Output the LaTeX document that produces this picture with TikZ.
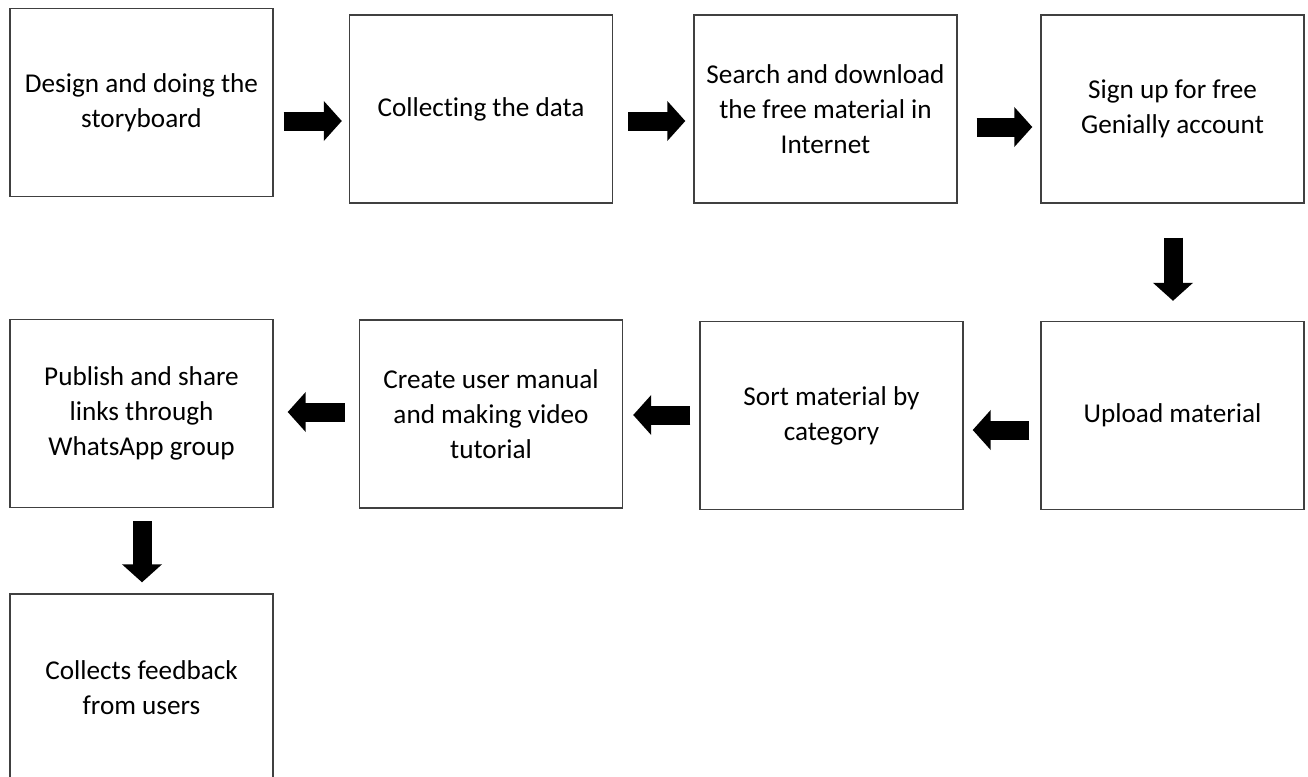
\documentclass[tikz,border=0pt]{standalone}
\usepackage{fontspec}
\setmainfont{Carlito}[Ligatures=NoCommon]
\usetikzlibrary{arrows.meta,calc}

\begin{document}
\begin{tikzpicture}[x=0.5pt,y=-0.5pt,
  box/.style={draw=black!75,line width=0.7pt,minimum width=131.5pt,minimum height=94pt,inner sep=0pt,align=center,font=\fontsize{13.6pt}{17.5pt}\selectfont},
  blk/.style={line width=9.5pt,-{Triangle[length=9pt,width=19.5pt]}}]
 \useasboundingbox (0,0) rectangle (1308,777);
 \clip (0,0) rectangle (1308,777);
 % top row
 \node[box] (a) at (141.5,102.5) {Design and doing the\\storyboard};
 \node[box] (b) at (481,109) {Collecting the data};
 \node[box] (c) at (825.5,109) {Search and download\\the free material in\\Internet};
 \node[box] (d) at (1172.5,109) {Sign up for free\\Genially account};
 % second row
 \node[box] (h) at (1172.5,415.5) {Upload material};
 \node[box] (g) at (831.5,415.5) {Sort material by\\category};
 \node[box] (f) at (491,414) {Create user manual\\and making video\\tutorial};
 \node[box] (e) at (141.5,413.5) {Publish and share\\links through\\WhatsApp group};
 \node[box] (i) at (141.5,688) {Collects feedback\\from users};
 % arrows
 \draw[blk] ($(a.east)+(10,18.5)$) -- ($(b.west)+(-7,12)$);
 \draw[blk] ($(b.east)+(15,12)$) -- ($(c.west)+(-8,12)$);
 \draw[blk] ($(c.east)+(19,18)$) -- ($(d.west)+(-8,18)$);
 \draw[blk] ($(d.south)+(0.5,34)$) -- ($(h.north)+(0.5,-20)$);
 \draw[blk] ($(h.west)+(-11,14.5)$) -- ($(g.east)+(9,14.5)$);
 \draw[blk] ($(g.west)+(-9,-0.5)$) -- ($(f.east)+(10,1)$);
 \draw[blk] ($(f.west)+(-14,-2)$) -- ($(e.east)+(14,-1.5)$);
 \draw[blk] ($(e.south)+(0.5,13)$) -- ($(i.north)+(0.5,-11)$);
\end{tikzpicture}
\end{document}
